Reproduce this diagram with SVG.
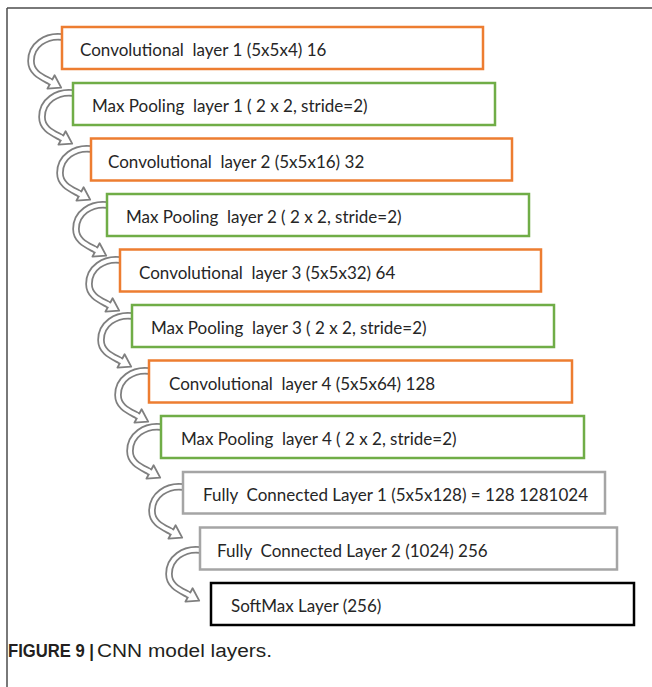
<svg xmlns="http://www.w3.org/2000/svg" xmlns:xlink="http://www.w3.org/1999/xlink" width="652" height="687" viewBox="0 0 652 687">
<style>
.box{fill:#fff;stroke-width:2.5}
.o{stroke:#ED7D31}
.g{stroke:#70AD47}
.y{stroke:#A5A5A5}
.k{stroke:#000}
.t{font-family:Lato,"Open Sans","Liberation Sans",sans-serif;font-size:17px;fill:#262626;white-space:pre}
.cap{font-family:"Liberation Sans",Arial,sans-serif;font-size:18px;fill:#231f20}
</style>
<defs>
<g id="arr">
<path d="M0,0 C-16,-2 -31,8 -31,24 C-31,36 -20,40 -11,45" fill="none" stroke="#7f7f7f" stroke-width="7.5"/>
<path d="M1,0 C-16,-2 -31,8 -31,24 C-31,36 -20,40 -11,45" fill="none" stroke="#fff" stroke-width="4"/>
<polygon points="-14.6,51.7 -7.4,38.3 -0.8,50.6" fill="#fff" stroke="#7f7f7f" stroke-width="1.8" stroke-linejoin="round"/>
<line x1="-12.6" y1="44.2" x2="-9.4" y2="45.8" stroke="#fff" stroke-width="4"/>
</g>
</defs>
<g id="frame" fill="none" stroke="#4d4d4d" stroke-width="1.5">
<line x1="7" y1="8" x2="652" y2="8"/>
<line x1="7" y1="8" x2="7" y2="687"/>
</g>
<g id="connectors">
<use xlink:href="#arr" transform="translate(62,37)"/>
<use xlink:href="#arr" transform="translate(73,93)"/>
<use xlink:href="#arr" transform="translate(91,149)"/>
<use xlink:href="#arr" transform="translate(107,205)"/>
<use xlink:href="#arr" transform="translate(120,260)"/>
<use xlink:href="#arr" transform="translate(132,316)"/>
<use xlink:href="#arr" transform="translate(149,371)"/>
<use xlink:href="#arr" transform="translate(161,427)"/>
<use xlink:href="#arr" transform="translate(183,487)"/>
<use xlink:href="#arr" transform="translate(200,550)"/>
</g>
<g id="n1"><rect class="box o" x="62" y="27" width="421" height="42"/><text class="t" x="80" y="56">Convolutional  layer 1 (5x5x4) 16</text></g>
<g id="n2"><rect class="box g" x="73" y="83" width="422" height="42"/><text class="t" x="92" y="112">Max Pooling  layer 1 ( 2 x 2, stride=2)</text></g>
<g id="n3"><rect class="box o" x="91" y="138.5" width="421" height="42"/><text class="t" x="108" y="167.5">Convolutional  layer 2 (5x5x16) 32</text></g>
<g id="n4"><rect class="box g" x="107" y="194" width="422" height="42"/><text class="t" x="126" y="223">Max Pooling  layer 2 ( 2 x 2, stride=2)</text></g>
<g id="n5"><rect class="box o" x="120" y="249.5" width="421" height="42"/><text class="t" x="139" y="278.5">Convolutional  layer 3 (5x5x32) 64</text></g>
<g id="n6"><rect class="box g" x="132" y="305" width="422" height="42"/><text class="t" x="151" y="334">Max Pooling  layer 3 ( 2 x 2, stride=2)</text></g>
<g id="n7"><rect class="box o" x="149" y="360.5" width="423" height="42"/><text class="t" x="169" y="389.5">Convolutional  layer 4 (5x5x64) 128</text></g>
<g id="n8"><rect class="box g" x="161" y="416" width="423" height="42"/><text class="t" x="181" y="445">Max Pooling  layer 4 ( 2 x 2, stride=2)</text></g>
<g id="n9"><rect class="box y" x="183" y="472" width="422" height="41.5"/><text class="t" x="203" y="501">Fully  Connected Layer 1 (5x5x128) = 128 1281024</text></g>
<g id="n10"><rect class="box y" x="200" y="527.5" width="417" height="42"/><text class="t" x="217" y="556.5">Fully  Connected Layer 2 (1024) 256</text></g>
<g id="n11"><rect class="box k" x="211" y="583" width="423" height="42"/><text class="t" x="231" y="612">SoftMax Layer (256)</text></g>
<g id="caption">
<text class="cap" x="8" y="657" font-weight="bold" textLength="86" lengthAdjust="spacingAndGlyphs">FIGURE 9 |</text>
<text class="cap" x="97" y="657" textLength="175" lengthAdjust="spacingAndGlyphs">CNN model layers.</text>
</g>
</svg>
